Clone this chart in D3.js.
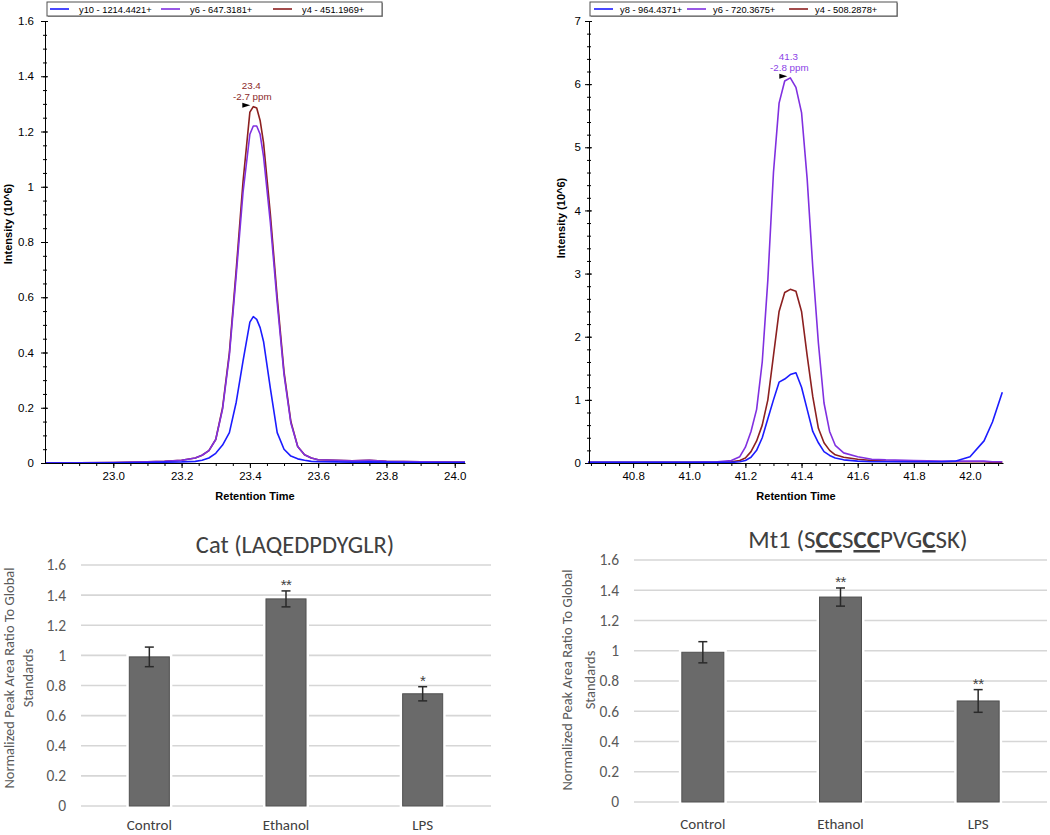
<!DOCTYPE html>
<html><head><meta charset="utf-8">
<script src="https://cdn.jsdelivr.net/npm/d3@7"></script>
<style>body{margin:0;background:#fff} svg{display:block}</style>
</head><body>
<svg id="c" width="1050" height="835"></svg>
<script>
// ---------- DATA ----------
// Top-left chromatogram (Cat peptide transitions)
const timesA = [22.80,22.90,23.00,23.10,23.15,23.20,23.24,23.26,23.28,23.30,23.32,23.34,23.36,23.38,23.40,23.41,23.42,23.43,23.44,23.46,23.48,23.50,23.52,23.54,23.56,23.58,23.60,23.65,23.70,23.75,23.80,23.90,24.00,24.03];
const a_y4  = [0.000,0.001,0.002,0.004,0.006,0.010,0.018,0.028,0.045,0.085,0.200,0.400,0.700,1.020,1.270,1.290,1.285,1.240,1.160,0.900,0.600,0.330,0.150,0.060,0.030,0.018,0.012,0.010,0.008,0.010,0.006,0.004,0.003,0.003];
const a_y6  = [0.000,0.001,0.002,0.004,0.006,0.010,0.018,0.028,0.045,0.085,0.195,0.390,0.680,0.980,1.190,1.220,1.220,1.190,1.110,0.870,0.580,0.320,0.145,0.060,0.030,0.018,0.012,0.010,0.008,0.010,0.006,0.004,0.003,0.003];
const a_y10 = [0.000,0.000,0.001,0.002,0.003,0.004,0.006,0.010,0.018,0.035,0.065,0.110,0.220,0.370,0.510,0.530,0.520,0.490,0.440,0.270,0.110,0.050,0.025,0.015,0.010,0.006,0.005,0.004,0.003,0.004,0.003,0.002,0.002,0.002];
const legendA = ["y10 - 1214.4421+","y6 - 647.3181+","y4 - 451.1969+"];
const xTicksA = [23.0,23.2,23.4,23.6,23.8,24.0];
const xTickLabelsA = ["23.0","23.2","23.4","23.6","23.8","24.0"];
const yTicksA = [0,0.2,0.4,0.6,0.8,1.0,1.2,1.4,1.6];
const yTickLabelsA = ["0","0.2","0.4","0.6","0.8","1","1.2","1.4","1.6"];
const peakA = {time:23.41, value:1.29, rt:"23.4", ppm:"-2.7 ppm"};

// Top-right chromatogram (Mt1 peptide transitions)
const timesB = [40.64,40.80,41.00,41.10,41.15,41.18,41.20,41.22,41.24,41.26,41.28,41.30,41.32,41.34,41.36,41.38,41.40,41.42,41.44,41.46,41.48,41.50,41.52,41.55,41.60,41.65,41.70,41.80,41.90,41.95,42.00,42.05,42.08,42.115];
const b_y4 = [0.01,0.01,0.01,0.01,0.02,0.04,0.08,0.18,0.35,0.60,1.00,1.70,2.40,2.70,2.75,2.72,2.40,1.70,1.05,0.55,0.32,0.20,0.13,0.09,0.06,0.04,0.03,0.02,0.02,0.02,0.02,0.02,0.01,0.01];
const b_y6 = [0.01,0.01,0.01,0.02,0.04,0.10,0.25,0.50,0.85,1.60,2.90,4.60,5.70,6.05,6.10,5.95,5.55,4.50,3.10,1.90,0.95,0.50,0.28,0.16,0.10,0.06,0.05,0.04,0.03,0.03,0.03,0.03,0.02,0.02];
const b_y8 = [0.01,0.01,0.01,0.01,0.01,0.02,0.04,0.09,0.20,0.40,0.70,1.00,1.28,1.33,1.40,1.43,1.20,0.85,0.50,0.32,0.18,0.12,0.08,0.05,0.03,0.02,0.02,0.02,0.02,0.03,0.10,0.35,0.65,1.12];
const legendB = ["y8 - 964.4371+","y6 - 720.3675+","y4 - 508.2878+"];
const xTicksB = [40.8,41.0,41.2,41.4,41.6,41.8,42.0];
const xTickLabelsB = ["40.8","41.0","41.2","41.4","41.6","41.8","42.0"];
const yTicksB = [0,1,2,3,4,5,6,7];
const yTickLabelsB = ["0","1","2","3","4","5","6","7"];
const peakB = {time:41.36, value:6.10, rt:"41.3", ppm:"-2.8 ppm"};

// Bottom bar charts
const groups = ["Control","Ethanol","LPS"];
const catValues = [0.99, 1.375, 0.745];
const catErrors = [0.065, 0.053, 0.047];
const catStars  = ["", "**", "*"];
const mtValues  = [0.99, 1.355, 0.668];
const mtErrors  = [0.07, 0.06, 0.075];
const mtStars   = ["", "**", "**"];
const barTicks  = [0,0.2,0.4,0.6,0.8,1.0,1.2,1.4,1.6];
const barTickLabels = ["0","0.2","0.4","0.6","0.8","1","1.2","1.4","1.6"];
const catTitle = [["Cat (LAQEDPDYGLR)", false]];
const mtTitle  = [["Mt1 (S",false],["CC",true],["S",false],["CC",true],["PVG",false],["C",true],["SK)",false]];
const barYLabel = ["Normalized Peak Area Ratio To Global","Standards"];

// ---------- DRAW ----------
const svg = d3.select("#c");
const COL = {blue:"#1c1cff", purple:"#8030e0", red:"#8c2020"};
const AR = "'Liberation Sans', Arial, sans-serif";
const CAL = "Carlito, Lato, 'Open Sans', sans-serif";

function chrom(o){
  const g = svg.append("g");
  const x = d3.scaleLinear().domain(o.xDomain).range(o.xRange);
  const y = d3.scaleLinear().domain(o.yDomain).range(o.yRange);
  const x0 = o.xRange[0], y0 = o.yRange[0];

  // legend
  const lg = g.append("g");
  lg.append("rect").attr("x",o.legBox[0]+1).attr("y",3).attr("width",o.legBox[1]-o.legBox[0]).attr("height",14).attr("fill","#a0a0a0");
  lg.append("rect").attr("x",o.legBox[0]).attr("y",2).attr("width",o.legBox[1]-o.legBox[0]).attr("height",14).attr("fill","#fff").attr("stroke","#505050").attr("stroke-width",1);
  o.legend.forEach((t,i)=>{
    const tx = o.legTextX[i];
    lg.append("line").attr("x1",tx-o.legGap-19).attr("x2",tx-o.legGap).attr("y1",9).attr("y2",9)
      .attr("stroke",o.colors[i]).attr("stroke-width",1.6);
    lg.append("text").attr("x",tx).attr("y",12.5).attr("font-family",AR).attr("font-size",9.3).attr("fill","#000").text(t);
  });

  // lines
  const line = d3.line().x((d,i)=>x(o.times[i])).y(d=>y(d));
  o.drawOrder.forEach(k=>{
    g.append("path").datum(o.series[k]).attr("d",line).attr("fill","none")
      .attr("stroke",o.colors[k]).attr("stroke-width",1.6).attr("stroke-linejoin","round");
  });

  // y axis
  const ya = g.append("g").attr("transform",`translate(${x0},0)`);
  ya.call(d3.axisLeft(y).tickValues(o.yTicks).tickFormat((d,i)=>o.yTickLabels[i]).tickSizeInner(4).tickSizeOuter(0).tickPadding(o.yPad));
  ya.selectAll("text").attr("font-family",AR).attr("font-size",11.5).attr("fill","#000");
  ya.selectAll("line,path").attr("stroke","#000");
  const yi = g.append("g").attr("transform",`translate(${x0},0)`);
  yi.call(d3.axisLeft(y).tickValues(o.yTicks).tickFormat("").tickSizeInner(-3).tickSizeOuter(0));
  yi.select(".domain").remove(); yi.selectAll("line").attr("stroke","#000");
  const ym = g.append("g").attr("transform",`translate(${x0+2},0)`);
  ym.call(d3.axisLeft(y).tickValues(o.yMinor).tickFormat("").tickSizeInner(4).tickSizeOuter(0));
  ym.select(".domain").remove(); ym.selectAll("line").attr("stroke","#000");

  // x axis
  const xa = g.append("g").attr("transform",`translate(0,${y0})`);
  xa.call(d3.axisBottom(x).tickValues(o.xTicks).tickFormat((d,i)=>o.xTickLabels[i]).tickSizeInner(5).tickSizeOuter(0).tickPadding(4));
  xa.selectAll("text").attr("font-family",AR).attr("font-size",11.5).attr("fill","#000");
  xa.selectAll("line,path").attr("stroke","#000");
  const xm = g.append("g").attr("transform",`translate(0,${y0})`);
  xm.call(d3.axisBottom(x).tickValues(o.xMinor).tickFormat("").tickSizeInner(3).tickSizeOuter(0));
  xm.select(".domain").remove(); xm.selectAll("line").attr("stroke","#000");

  // axis titles
  g.append("text").attr("x",(o.xRange[0]+o.xRange[1])/2).attr("y",500).attr("text-anchor","middle")
    .attr("font-family",AR).attr("font-size",11).attr("font-weight","bold").text("Retention Time");
  g.append("text").attr("transform",`translate(${o.yTitleX},${o.yTitleY}) rotate(-90)`).attr("text-anchor","middle")
    .attr("font-family",AR).attr("font-size",11).attr("font-weight","bold").text("Intensity (10^6)");

  // peak annotation
  const px = x(o.peak.time), py = y(o.peak.value);
  g.append("text").attr("x",px-2).attr("y",py-18).attr("text-anchor","middle").attr("font-family",AR)
    .attr("font-size",9.8).attr("fill",o.annColor).text(o.peak.rt);
  g.append("text").attr("x",px-1).attr("y",py-7).attr("text-anchor","middle").attr("font-family",AR)
    .attr("font-size",9.8).attr("fill",o.annColor).text(o.peak.ppm);
  const tx = px-3, ty = py-1.5;
  g.append("path").attr("d",`M${tx},${ty}L${tx-8},${ty-2.5}L${tx-8},${ty+2.5}Z`).attr("fill","#000");
}

chrom({
  times: timesA, series:[a_y10,a_y6,a_y4], colors:[COL.blue,COL.purple,COL.red], drawOrder:[2,1,0],
  xDomain:[22.8,24.03], xRange:[45,465], yDomain:[0,1.6], yRange:[463,21],
  xTicks:xTicksA, xTickLabels:xTickLabelsA, xMinor:d3.range(22.85,24.03,0.05),
  yTicks:yTicksA, yTickLabels:yTickLabelsA, yMinor:d3.range(0.05,1.6,0.05), yPad:7,
  legend:legendA, legBox:[47,382], legTextX:[79,190,302], legGap:10,
  yTitleX:12, yTitleY:224, peak:peakA, annColor:"#8c2a2a"
});
chrom({
  times: timesB, series:[b_y8,b_y6,b_y4], colors:[COL.blue,COL.purple,COL.red], drawOrder:[2,1,0],
  xDomain:[40.643,42.1175], xRange:[589,1003], yDomain:[0,7], yRange:[463,21],
  xTicks:xTicksB, xTickLabels:xTickLabelsB, xMinor:d3.range(40.65,42.12,0.05),
  yTicks:yTicksB, yTickLabels:yTickLabelsB, yMinor:d3.range(0.2,7,0.2), yPad:4,
  legend:legendB, legBox:[590,897], legTextX:[620,713,815], legGap:7,
  yTitleX:565, yTitleY:218, peak:peakB, annColor:"#8a3ee6"
});

function bars(o){
  const g = svg.append("g");
  const x = d3.scaleBand().domain(groups).range(o.xRange).paddingInner(o.pad).paddingOuter(o.pad/2);
  const y = d3.scaleLinear().domain([0,1.6]).range(o.yRange);
  g.selectAll("line.grid").data(barTicks).join("line").attr("class","grid")
    .attr("x1",o.xRange[0]).attr("x2",o.xRange[1]).attr("y1",d=>y(d)).attr("y2",d=>y(d))
    .attr("stroke","#d6d6d6").attr("stroke-width",1.6);
  // white halo
  g.selectAll("rect.halo").data(o.values).join("rect").attr("class","halo")
    .attr("x",(d,i)=>x(groups[i])).attr("width",x.bandwidth()).attr("y",d=>y(d)).attr("height",d=>y(0)-y(d))
    .attr("fill","#fff").attr("stroke","#fff").attr("stroke-width",6);
  g.selectAll("rect.bar").data(o.values).join("rect").attr("class","bar")
    .attr("x",(d,i)=>x(groups[i])).attr("width",x.bandwidth()).attr("y",d=>y(d)).attr("height",d=>y(0)-y(d))
    .attr("fill","#6a6a6a").attr("stroke","#505050").attr("stroke-width",1);
  // error bars
  o.values.forEach((v,i)=>{
    const cx = x(groups[i])+x.bandwidth()/2, e=o.errors[i];
    const eg = g.append("g").attr("stroke","#2a2a2a").attr("stroke-width",1.5);
    eg.append("line").attr("x1",cx).attr("x2",cx).attr("y1",y(v+e)).attr("y2",y(v-e));
    eg.append("line").attr("x1",cx-4.5).attr("x2",cx+4.5).attr("y1",y(v+e)).attr("y2",y(v+e));
    eg.append("line").attr("x1",cx-4.5).attr("x2",cx+4.5).attr("y1",y(v-e)).attr("y2",y(v-e));
    if(o.stars[i]) g.append("text").attr("x",cx).attr("y",y(v+e)-1).attr("text-anchor","middle")
      .attr("font-family",AR).attr("font-size",15).attr("letter-spacing",-0.5).attr("fill","#404040").text(o.stars[i]);
  });
  // y tick labels
  const ya = g.append("g").attr("transform",`translate(${o.xRange[0]},0)`)
    .call(d3.axisLeft(y).tickValues(barTicks).tickFormat((d,i)=>barTickLabels[i]).tickSize(0).tickPadding(15));
  ya.select(".domain").remove();
  ya.selectAll("text").attr("font-family",CAL).attr("font-size",15.5).attr("fill","#595959");
  // category labels
  const xa = g.append("g").attr("transform",`translate(0,${y(0)})`)
    .call(d3.axisBottom(x).tickSize(0).tickPadding(o.catPad));
  xa.select(".domain").remove();
  xa.selectAll("text").attr("font-family",CAL).attr("font-size",15).attr("fill","#404040");
  // title
  const t = g.append("text").attr("x",o.titleX).attr("y",o.titleY).attr("text-anchor","middle")
    .attr("font-family",CAL).attr("font-size",o.titleSize).attr("fill","#404040");
  o.title.forEach(([s,b])=>{
    const ts = t.append("tspan").text(s);
    if(b) ts.attr("font-weight","bold").style("text-decoration","underline");
  });
  // y label
  barYLabel.forEach((s,i)=>{
    g.append("text").attr("transform",`translate(${o.yLabX[i]},${o.yLabY}) rotate(-90)`).attr("text-anchor","middle")
      .attr("font-family",CAL).attr("font-size",14.5).attr("fill","#595959").text(s);
  });
}

bars({values:catValues, errors:catErrors, stars:catStars, xRange:[81,491], yRange:[806,565], pad:0.707,
  catPad:13, title:catTitle, titleSize:24.5, titleX:295, titleY:553, yLabX:[14,33], yLabY:678});
bars({values:mtValues, errors:mtErrors, stars:mtStars, xRange:[634,1047], yRange:[802,560], pad:0.695,
  catPad:16, title:mtTitle, titleSize:25, titleX:858, titleY:548, yLabX:[572,595], yLabY:680});
</script>
</body></html>
